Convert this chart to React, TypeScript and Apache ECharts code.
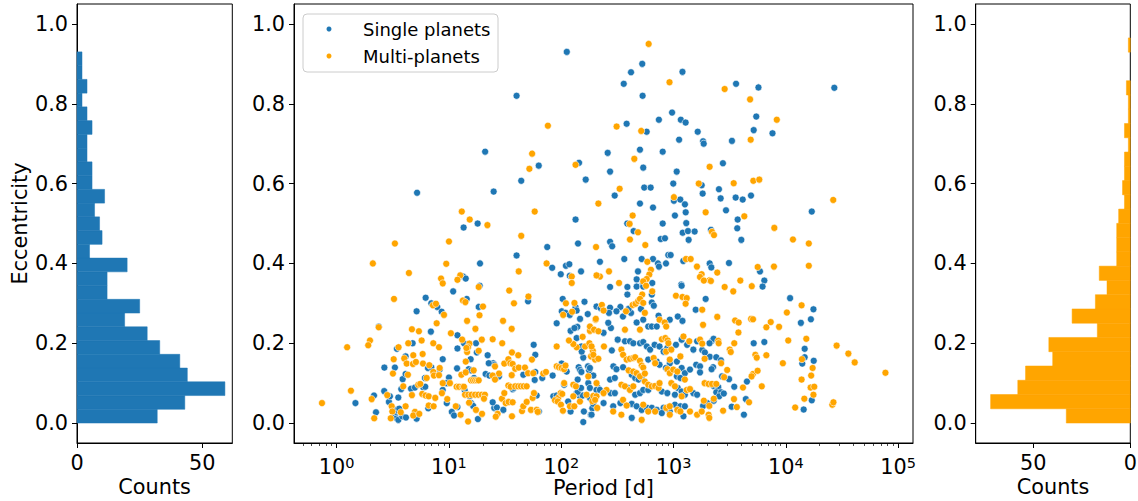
import React, { useEffect, useRef } from "react";
import * as echarts from "echarts";

const FONT = "DejaVu Sans";
const BLUE = "#1f77b4";
const ORANGE = "#ffa500";

// [period (d), eccentricity]
const singlePlanets: [number, number][] = [
  [112,0.93],[40,0.82],[21,0.68],[63,0.645],[144,0.652],[44,0.607],[165,0.61],[5.2,0.577],[25,0.58],[13.5,0.49],[18,0.5],[134,0.51],[75,0.441],[141,0.45],
  [526,0.9],[418,0.879],[360,0.85],[1200,0.88],[530,0.82],[3600,0.85],[5700,0.841],[27000,0.84],[970,0.778],[740,0.76],[1160,0.76],[1280,0.753],[5450,0.768],[382,0.75],[576,0.73],[1640,0.73],[5170,0.734],[7600,0.726],[1120,0.71],[1830,0.706],[1855,0.7],[3310,0.707],[259,0.677],[502,0.685],[800,0.68],[2750,0.651],[272,0.63],[537,0.64],[1066,0.63],[548,0.59],[625,0.59],[994,0.6],[1780,0.596],[299,0.57],[1815,0.575],[2535,0.586],[2625,0.563],[3570,0.565],[4125,0.56],[4890,0.57],[502,0.55],[656,0.54],[1007,0.557],[1148,0.56],[1262,0.548],[1282,0.528],[1028,0.52],[2930,0.533],[3720,0.51],[17000,0.53],[387,0.5],[441,0.481],[800,0.5],[1297,0.501],[1205,0.477],[1343,0.481],[1540,0.48],[2153,0.484],[3690,0.488],[768,0.461],[838,0.463],[1362,0.459],[4010,0.459],[272,0.454],[284,0.443],
  [40,0.42],[83,0.389],[99,0.373],[110,0.394],[118,0.398],[119,0.369],[150,0.38],[18.9,0.4],[221,0.404],[364,0.411],[482,0.38],[469,0.36],[520,0.411],[656,0.411],[726,0.4],[741,0.392],[856,0.4],[897,0.421],[942,0.421],[1220,0.406],[2096,0.4],[2168,0.39],[3114,0.401],[5880,0.38],[6430,0.357],[533,0.35],[1170,0.347],[646,0.351],
  [13.4,0.367],[14.1,0.362],[18.8,0.344],[10.9,0.33],[6.2,0.314],[14.4,0.311],[50.6,0.305],[6.96,0.3],[7.87,0.291],[18.4,0.291],[5.15,0.28],[8.61,0.279],[2.37,0.242],[11.9,0.22],[13.6,0.2],[17.4,0.2],[4.75,0.2],[3.44,0.186],[11.9,0.187],[17.7,0.177],[22.1,0.17],[4.11,0.167],[8.8,0.16],[15.6,0.16],[6.5,0.138],[6.96,0.14],[8.27,0.134],[24.8,0.15],[25.3,0.146],
  [1.47,0.05],[2.15,0.069],[2.24,0.027],[2.65,0.08],[2.92,0.053],[2.98,0.067],[3.24,0.018],[3.42,0.012],[3.54,0.008],[3.35,0.028],[3.42,0.033],[3.61,0.036],[3.84,0.017],[4.14,0.014],[3.54,0.064],[3.87,0.11],[3.76,0.085],[4.11,0.123],[4.59,0.086],[4.98,0.089],[5.15,0.011],[5.9,0.09],[6.15,0.091],[6.54,0.037],[6.11,0.113],[8.8,0.083],[9.55,0.05],[10,0.114],[10.6,0.028],[11.1,0.019],[11.9,0.04],[13.8,0.082],[15,0.135],[15.8,0.132],[15.3,0.067],[16.7,0.113],[15.7,0.05],[16.4,0.043],[18.1,0.01],[21.2,0.123],[22.9,0.119],[26.8,0.114],[27.9,0.117],[25.3,0.038],[26.7,0.039],[30.5,0.033],[36.9,0.085],[37.9,0.088],[60.4,0.069],[58,0.108],[58.7,0.128],[63.3,0.029],[56.8,0.196],[58.7,0.171],[67.7,0.113],[84.9,0.067],[91,0.069],[83.8,0.119],[100.7,0.149],[111.7,0.129],[106,0.096],[115,0.054],[121,0.029],[146.6,0.067],[155,0.069],[157,0.0025],[159,0.029],[183,0.021],[189,0.037],[157,0.164],[173,0.142],[177,0.132],[180,0.138],[151,0.192],[152,0.179],[137,0.213],[139,0.241],[147,0.261],[161,0.304],[134,0.29],[137,0.282],[103,0.311],[101,0.28],[109,0.276],[119,0.271],[91,0.25],[206,0.292],[172,0.273],[137,0.075],[174,0.1],[180,0.088],[213,0.088],[193,0.119],[2.66,0.139],[3.3,0.139],
  [6.9,0.229],[9.55,0.1],[11.8,0.137],[22.6,0.15],[45.9,0.121],[24.5,0.052],[121,0.231],[131,0.238],[143,0.14],[147,0.133],[151,0.128],[140,0.109],[140,0.078],[150,0.088],
  [272,0.341],[388,0.341],[469,0.342],[537,0.342],[1180,0.344],[388,0.322],[640,0.322],[1574,0.284],[224,0.288],[272,0.289],[336,0.291],[266,0.276],[310,0.28],[354,0.267],[418,0.276],[398,0.286],[512,0.286],[640,0.302],[667,0.294],[735,0.269],[925,0.259],[1090,0.267],[1200,0.256],[469,0.252],[537,0.259],[595,0.242],[640,0.242],[708,0.242],[277,0.238],[238,0.226],[262,0.251],[318,0.209],[369,0.205],[409,0.205],[438,0.2],[502,0.2],[537,0.203],[578,0.192],[618,0.184],[678,0.196],[750,0.192],[815,0.179],[880,0.188],[1050,0.196],[1180,0.209],[1320,0.196],[1620,0.205],[1500,0.184],[282,0.182],[291,0.142],[310,0.135],[355,0.14],[595,0.159],[708,0.154],[750,0.146],[925,0.15],[1070,0.154],[855,0.138],[1180,0.138],[1260,0.125],[1400,0.134],[1590,0.146],[1720,0.142],[1070,0.117],[1150,0.113],[424,0.121],[455,0.113],[488,0.109],[520,0.113],[272,0.109],[300,0.113],[275,0.075],[300,0.075],[206,0.083],[221,0.083],[398,0.088],[455,0.071],[502,0.075],[537,0.083],[595,0.083],[785,0.079],[880,0.075],[1028,0.071],[1090,0.088],[1180,0.079],[1260,0.071],[1500,0.075],[1620,0.071],[180,0.063],[193,0.048],[238,0.05],[290,0.042],[336,0.05],[424,0.048],[469,0.042],[520,0.033],[578,0.038],[640,0.038],[708,0.033],[815,0.038],[925,0.029],[1028,0.046],[1150,0.042],[1260,0.042],[186,0.021],[424,0.013],[785,0.025],[1225,0.017],
  [6200,0.342],[1930,0.311],[10900,0.313],[13600,0.251],[17600,0.285],[16700,0.26],[2200,0.206],[2270,0.211],[2090,0.2],[5170,0.2],[6430,0.203],[14700,0.186],[2100,0.166],[2400,0.165],[2640,0.157],[2250,0.14],[2180,0.135],[1720,0.127],[14700,0.165],[14000,0.149],[17700,0.156],[2700,0.117],[3120,0.11],[2270,0.093],[2500,0.09],[3470,0.091],[4500,0.104],[2400,0.077],[2650,0.077],[2550,0.067],[2800,0.074],[2280,0.056],[1990,0.05],[1830,0.043],[4400,0.06],[3290,0.041],[17000,0.057],[14400,0.034],[4230,0.021],[1800,0.183],[1900,0.177],
];

const multiPlanets: [number, number][] = [
  [76,0.745],[55,0.675],[52,0.637],[134,0.647],[214,0.55],[13,0.53],[15.3,0.51],[22,0.496],[58,0.53],[44,0.469],[3.3,0.45],[10,0.455],[204,0.441],
  [600,0.95],[920,0.854],[2850,0.837],[4800,0.811],[8300,0.76],[311,0.743],[515,0.732],[4860,0.71],[447,0.662],[2094,0.642],[1675,0.6],[3430,0.601],[5130,0.607],[5800,0.61],[331,0.587],[1007,0.566],[1930,0.528],[4265,0.518],[26400,0.559],[432,0.52],[406,0.499],[482,0.478],[2197,0.479],[2290,0.471],[7890,0.489],[409,0.46],[560,0.446],[11560,0.46],[16000,0.45],
  [74,0.4],[41.8,0.38],[124,0.367],[124,0.351],[221,0.367],[266,0.38],[584,0.404],[629,0.384],[608,0.372],[576,0.361],[1290,0.411],[1420,0.411],[1615,0.392],[1778,0.373],[1718,0.366],[2096,0.358],[2450,0.377],[3930,0.357],[5610,0.391],[7830,0.392],[327,0.351],
  [2.1,0.4],[4.4,0.376],[9.46,0.399],[12.6,0.37],[8.5,0.362],[8.8,0.35],[11.9,0.359],[18.4,0.341],[34.4,0.332],[3.24,0.311],[13.3,0.307],[14,0.303],[51,0.317],[37.9,0.3],[7.2,0.295],[7.66,0.299],[20.1,0.292],[9.03,0.271],[30.3,0.256],[14.5,0.256],[36.2,0.236],[17.2,0.236],[7.77,0.25],[10.4,0.225],[4.68,0.235],[2.37,0.24],[24.5,0.21],[5.4,0.23],[5.71,0.207],[13.1,0.209],[15.2,0.199],[19.6,0.209],[29.8,0.2],[4.34,0.2],[1.98,0.207],[1.91,0.195],[1.24,0.19],[3.56,0.19],[8.15,0.19],[14.5,0.178],[14.8,0.19],[18.4,0.181],[36.4,0.177],[41.4,0.17],[4.81,0.17],[5.83,0.173],[4.0,0.162],[3.22,0.16],[8.27,0.138],[4.2,0.149],[4.78,0.148],[5.08,0.153],[5.87,0.149],[6.68,0.145],[25.7,0.142],[27.9,0.124],[31.1,0.149],[33.8,0.16],[35.2,0.15],[36.9,0.148],[38.9,0.136],[41.8,0.139],[47.5,0.139],[50.6,0.125],[36.2,0.12],
  [0.74,0.05],[1.34,0.081],[2.05,0.06],[2.16,0.012],[2.82,0.07],[3.09,0.042],[3.13,0.029],[3.03,0.012],[3.72,0.027],[4.11,0.042],[3.92,0.092],[4.31,0.121],[4.68,0.07],[4.98,0.028],[4.81,0.019],[5.44,0.023],[5.33,0.096],[5.55,0.098],[5.78,0.073],[6.2,0.069],[6.6,0.067],[6.6,0.044],[7.3,0.042],[7.55,0.063],[6.33,0.113],[7.25,0.128],[7.35,0.119],[8.15,0.12],[8.66,0.075],[9.66,0.06],[10.2,0.1],[11.5,0.042],[12.7,0.021],[11.7,0.091],[12.3,0.091],[13.2,0.091],[13.6,0.091],[13.9,0.071],[14.9,0.071],[15.9,0.071],[17.1,0.071],[18.3,0.071],[19.6,0.071],[20.9,0.071],[12.9,0.121],[14.1,0.127],[15.7,0.107],[16.4,0.107],[17.1,0.107],[17.8,0.107],[18.4,0.107],[15.1,0.051],[17.4,0.033],[14.8,0.004],[19.7,0.023],[20.5,0.061],[24.5,0.119],[25.7,0.109],[27.1,0.023],[26.1,0.016],[29.6,0.061],[31.1,0.075],[32,0.05],[34,0.053],[36.9,0.052],[33.8,0.094],[35.4,0.091],[38.9,0.092],[41.4,0.092],[43.7,0.092],[46.3,0.092],[49.2,0.092],[36.4,0.017],[44.7,0.03],[45.9,0.042],[49.2,0.053],[53.7,0.033],[55.6,0.063],[57.1,0.075],[56.3,0.125],[60.4,0.033],[61.7,0.028],[54.8,0.159],[69.2,0.124],[73.1,0.128],[94,0.063],[87.9,0.057],[92.9,0.054],[91,0.142],[95.3,0.14],[100.7,0.138],[106,0.135],[109,0.144],[106,0.1],[98.8,0.075],[102,0.073],[99.4,0.046],[103.5,0.031],[119.4,0.042],[130.6,0.042],[146.6,0.054],[189,0.055],[168,0.071],[193,0.068],[209,0.038],[184,0.167],[163,0.192],[191,0.181],[200,0.159],[180,0.231],[155,0.216],[202,0.259],[131,0.301],[104,0.271],[91,0.192],[206,0.37],[178,0.2],[137,0.19],[128,0.198],[128,0.096],[135,0.092],[128,0.067],[206,0.1],[174,0.117],
  [7.25,0.2],[3.17,0.124],[8.8,0.1],[18.7,0.27],[14.3,0.188],[14.1,0.154],[16.6,0.132],[110,0.3],[125,0.279],[117,0.207],
  [537,0.355],[569,0.344],[646,0.33],[526,0.322],[1050,0.319],[1200,0.316],[1310,0.313],[1280,0.299],[230,0.296],[238,0.282],[203,0.261],[377,0.28],[432,0.296],[459,0.299],[484,0.306],[502,0.311],[537,0.301],[555,0.276],[750,0.259],[833,0.252],[860,0.242],[502,0.234],[369,0.234],[180,0.242],[196,0.234],[214,0.23],[787,0.21],[845,0.213],[885,0.207],[900,0.2],[1225,0.217],[1380,0.205],[1150,0.167],[860,0.179],[955,0.184],[343,0.184],[355,0.171],[382,0.159],[409,0.161],[438,0.163],[455,0.165],[186,0.192],[193,0.171],[214,0.161],[240,0.192],[502,0.156],[520,0.144],[537,0.139],[665,0.163],[685,0.15],[925,0.159],[880,0.135],[925,0.125],[994,0.134],[1080,0.129],[1260,0.109],[398,0.132],[438,0.129],[469,0.125],[502,0.117],[555,0.124],[253,0.083],[238,0.075],[206,0.067],[200,0.058],[343,0.096],[369,0.092],[409,0.083],[438,0.092],[555,0.104],[595,0.096],[640,0.092],[685,0.093],[735,0.088],[750,0.1],[955,0.1],[1028,0.092],[1180,0.067],[1310,0.083],[1400,0.085],[355,0.058],[382,0.044],[537,0.046],[595,0.029],[685,0.029],[860,0.038],[925,0.042],[1080,0.033],[1150,0.029],[1400,0.029],[1620,0.021],[290,0.029],[343,0.021],[520,0.008],[925,0.021],
  [1860,0.357],[2150,0.356],[2850,0.341],[3400,0.33],[4970,0.343],[1800,0.284],[1830,0.246],[2450,0.266],[3530,0.257],[3800,0.252],[4900,0.261],[5100,0.26],[7330,0.253],[6700,0.24],[8700,0.241],[13800,0.295],[10200,0.277],[3780,0.227],[2500,0.206],[2520,0.2],[3470,0.2],[10500,0.207],[15200,0.211],[28300,0.194],[36000,0.174],[3160,0.184],[3230,0.178],[1720,0.209],[1800,0.199],[5350,0.171],[5500,0.164],[6700,0.17],[1890,0.161],[2650,0.15],[3000,0.133],[2820,0.115],[9400,0.15],[13900,0.16],[17300,0.138],[16800,0.119],[5100,0.123],[4950,0.117],[5600,0.131],[13800,0.109],[1890,0.1],[2050,0.098],[2200,0.098],[2400,0.098],[4150,0.089],[6100,0.092],[16600,0.089],[17900,0.091],[17600,0.071],[2280,0.061],[1860,0.056],[2080,0.043],[3450,0.06],[4700,0.052],[3660,0.04],[14600,0.061],[12100,0.039],[25900,0.046],[26500,0.052],[2760,0.031],[2050,0.021],[2080,0.013],[1780,0.029],[16000,0.394],[41000,0.152],[77000,0.126],
];

// Histogram counts per eccentricity bin (27 bins each, from bottom)
const singleCounts = [32,43,59,44,41,33,28,19,25,12,12,20,5,10,9,7,11,6,6,4,4,6,4,2,4,2,2];
const multiCounts = [33,72,58,54,40,42,17,30,18,12,16,7,7,7,6,3,4,3,3,1,3,1,1,2,0,0,1];
const singleRange = [0, 0.93];
const multiRange = [0, 0.965];

const eccTicks = [0, 0.2, 0.4, 0.6, 0.8, 1.0];
const periodTicks = [1, 10, 100, 1000, 10000, 100000];
const countTicks = [0, 50];

function binData(counts: number[], range: number[]) {
  const w = (range[1] - range[0]) / counts.length;
  return counts.map((c, i) => [range[0] + i * w, range[0] + (i + 1) * w, c]);
}

const minorPeriodTicks: number[] = [];
for (let p = -1; p <= 5; p++) {
  for (let k = 2; k <= 9; k++) minorPeriodTicks.push(k * Math.pow(10, p));
}

export default function App() {
  const ref = useRef<HTMLDivElement>(null);
  useEffect(() => {
    if (!ref.current) return;
    const chart = echarts.init(ref.current, null, { renderer: "svg" });

    const tickStyle = { color: "#000", width: 1 };
    const labelBase = { color: "#000", fontSize: 20.8, fontFamily: FONT };
    const nameStyle = { color: "#000", fontSize: 20.8, fontFamily: FONT };

    const yAxisFor = (gridIndex: number, withName: boolean) => ({
      gridIndex,
      type: "value",
      min: -0.05,
      max: 1.05,
      name: withName ? "Eccentricity" : "",
      nameLocation: "middle",
      nameGap: 47,
      nameMoveOverlap: false,
      nameTextStyle: nameStyle,
      axisLine: { show: true, onZero: false, lineStyle: tickStyle },
      axisTick: { show: true, inside: false, length: 5, lineStyle: tickStyle, customValues: eccTicks },
      axisLabel: { ...labelBase, margin: 9, customValues: eccTicks, formatter: (v: number) => v.toFixed(1) },
      splitLine: { show: false },
    });

    const histRender = (color: string) => (params: any, api: any) => {
      const lo = api.value(0);
      const hi = api.value(1);
      const c = api.value(2);
      if (!c) return null;
      const p1 = api.coord([0, hi]);
      const p2 = api.coord([c, lo]);
      return {
        type: "rect",
        shape: {
          x: Math.min(p1[0], p2[0]),
          y: p1[1],
          width: Math.abs(p2[0] - p1[0]),
          height: p2[1] - p1[1],
        },
        style: { fill: color, stroke: color, lineWidth: 0.5 },
      };
    };

    const gridBase = { show: true, borderColor: "#000", borderWidth: 1, backgroundColor: "transparent", outerBoundsMode: "none", containLabel: false };

    const option: any = {
      animation: false,
      backgroundColor: "#fff",
      textStyle: { fontFamily: FONT },
      grid: [
        { ...gridBase, left: 77, top: 4, width: 155.3, height: 439 },
        { ...gridBase, left: 294, top: 4, width: 619, height: 439 },
        { ...gridBase, left: 975.7, top: 4, width: 154.6, height: 439 },
      ],
      graphic: [
        {
          type: "rect",
          z: 3,
          silent: true,
          shape: { x: 303, y: 14, width: 195, height: 58, r: 4 },
          style: { fill: "rgba(255,255,255,0.8)", stroke: "#cccccc", lineWidth: 1 },
        },
      ],
      legend: {
        data: ["Single planets", "Multi-planets"],
        orient: "vertical",
        left: 324.5,
        top: 19,
        padding: 0,
        itemWidth: 7,
        itemHeight: 7,
        itemGap: 7,
        icon: "circle",
        z: 5,
        selectedMode: false,
        formatter: (name: string) => `{t|${name}}`,
        textStyle: {
          fontSize: 18,
          fontFamily: FONT,
          color: "#000",
          lineHeight: 20,
          rich: { t: { fontSize: 18, fontFamily: FONT, color: "#000", lineHeight: 20, padding: [0, 0, 0, 25.5] } },
        },
      },
      xAxis: [
        {
          gridIndex: 0,
          type: "value",
          min: 0,
          max: 61.95,
          name: "Counts",
          nameLocation: "middle",
          nameGap: 33,
          nameMoveOverlap: false,
          nameTextStyle: nameStyle,
          axisLine: { show: true, onZero: false, lineStyle: tickStyle },
          axisTick: { show: true, length: 5, lineStyle: tickStyle, customValues: countTicks },
          axisLabel: { ...labelBase, margin: 9, customValues: countTicks },
          splitLine: { show: false },
        },
        {
          gridIndex: 1,
          type: "log",
          logBase: 10,
          min: 0.417,
          max: 135500,
          position: "bottom",
          name: "Period [d]",
          nameLocation: "middle",
          nameGap: 34,
          nameMoveOverlap: false,
          nameTextStyle: nameStyle,
          axisLine: { show: true, onZero: false, lineStyle: tickStyle },
          axisTick: { show: true, length: 5, lineStyle: tickStyle, customValues: periodTicks },
          axisLabel: {
            color: "#000",
            fontFamily: FONT,
            margin: 12,
            customValues: periodTicks,
            formatter: (v: number) => `{b|10}{s|${Math.round(Math.log10(v))}}`,
            rich: {
              b: { fontSize: 20.8, fontFamily: FONT, color: "#000", lineHeight: 22, verticalAlign: "bottom" },
              s: { fontSize: 14.5, fontFamily: FONT, color: "#000", lineHeight: 12, verticalAlign: "top" },
            },
          },
          splitLine: { show: false },
        },
        {
          gridIndex: 1,
          type: "log",
          logBase: 10,
          min: 0.417,
          max: 135500,
          position: "bottom",
          axisLine: { show: false, onZero: false },
          axisTick: { show: true, length: 3, lineStyle: { color: "#000", width: 0.7 }, customValues: minorPeriodTicks },
          axisLabel: { show: false },
          splitLine: { show: false },
        },
        {
          gridIndex: 2,
          type: "value",
          min: 0,
          max: 79.7,
          inverse: true,
          name: "Counts",
          nameLocation: "middle",
          nameGap: 33,
          nameMoveOverlap: false,
          nameTextStyle: nameStyle,
          axisLine: { show: true, onZero: false, lineStyle: tickStyle },
          axisTick: { show: true, length: 5, lineStyle: tickStyle, customValues: countTicks },
          axisLabel: { ...labelBase, margin: 9, customValues: countTicks },
          splitLine: { show: false },
        },
      ],
      yAxis: [yAxisFor(0, true), yAxisFor(1, false), yAxisFor(2, false)],
      series: [
        {
          type: "custom",
          name: "singleHist",
          xAxisIndex: 0,
          yAxisIndex: 0,
          data: binData(singleCounts, singleRange),
          encode: { x: 2, y: [0, 1] },
          renderItem: histRender(BLUE),
        },
        {
          type: "scatter",
          name: "Single planets",
          xAxisIndex: 1,
          yAxisIndex: 1,
          data: singlePlanets,
          symbol: "circle",
          symbolSize: 7,
          itemStyle: { color: BLUE, borderColor: "#fff", borderWidth: 0.6, opacity: 1 },
          emphasis: { disabled: true },
        },
        {
          type: "scatter",
          name: "Multi-planets",
          xAxisIndex: 1,
          yAxisIndex: 1,
          data: multiPlanets,
          symbol: "circle",
          symbolSize: 7,
          itemStyle: { color: ORANGE, borderColor: "#fff", borderWidth: 0.6, opacity: 1 },
          emphasis: { disabled: true },
        },
        {
          type: "custom",
          name: "multiHist",
          xAxisIndex: 3,
          yAxisIndex: 2,
          data: binData(multiCounts, multiRange),
          encode: { x: 2, y: [0, 1] },
          renderItem: histRender(ORANGE),
        },
      ],
    };

    chart.setOption(option);
    return () => chart.dispose();
  }, []);

  return (
    <div
      ref={ref}
      style={{ position: "absolute", left: 0, top: 0, width: 1138, height: 501, background: "#fff" }}
    />
  );
}
